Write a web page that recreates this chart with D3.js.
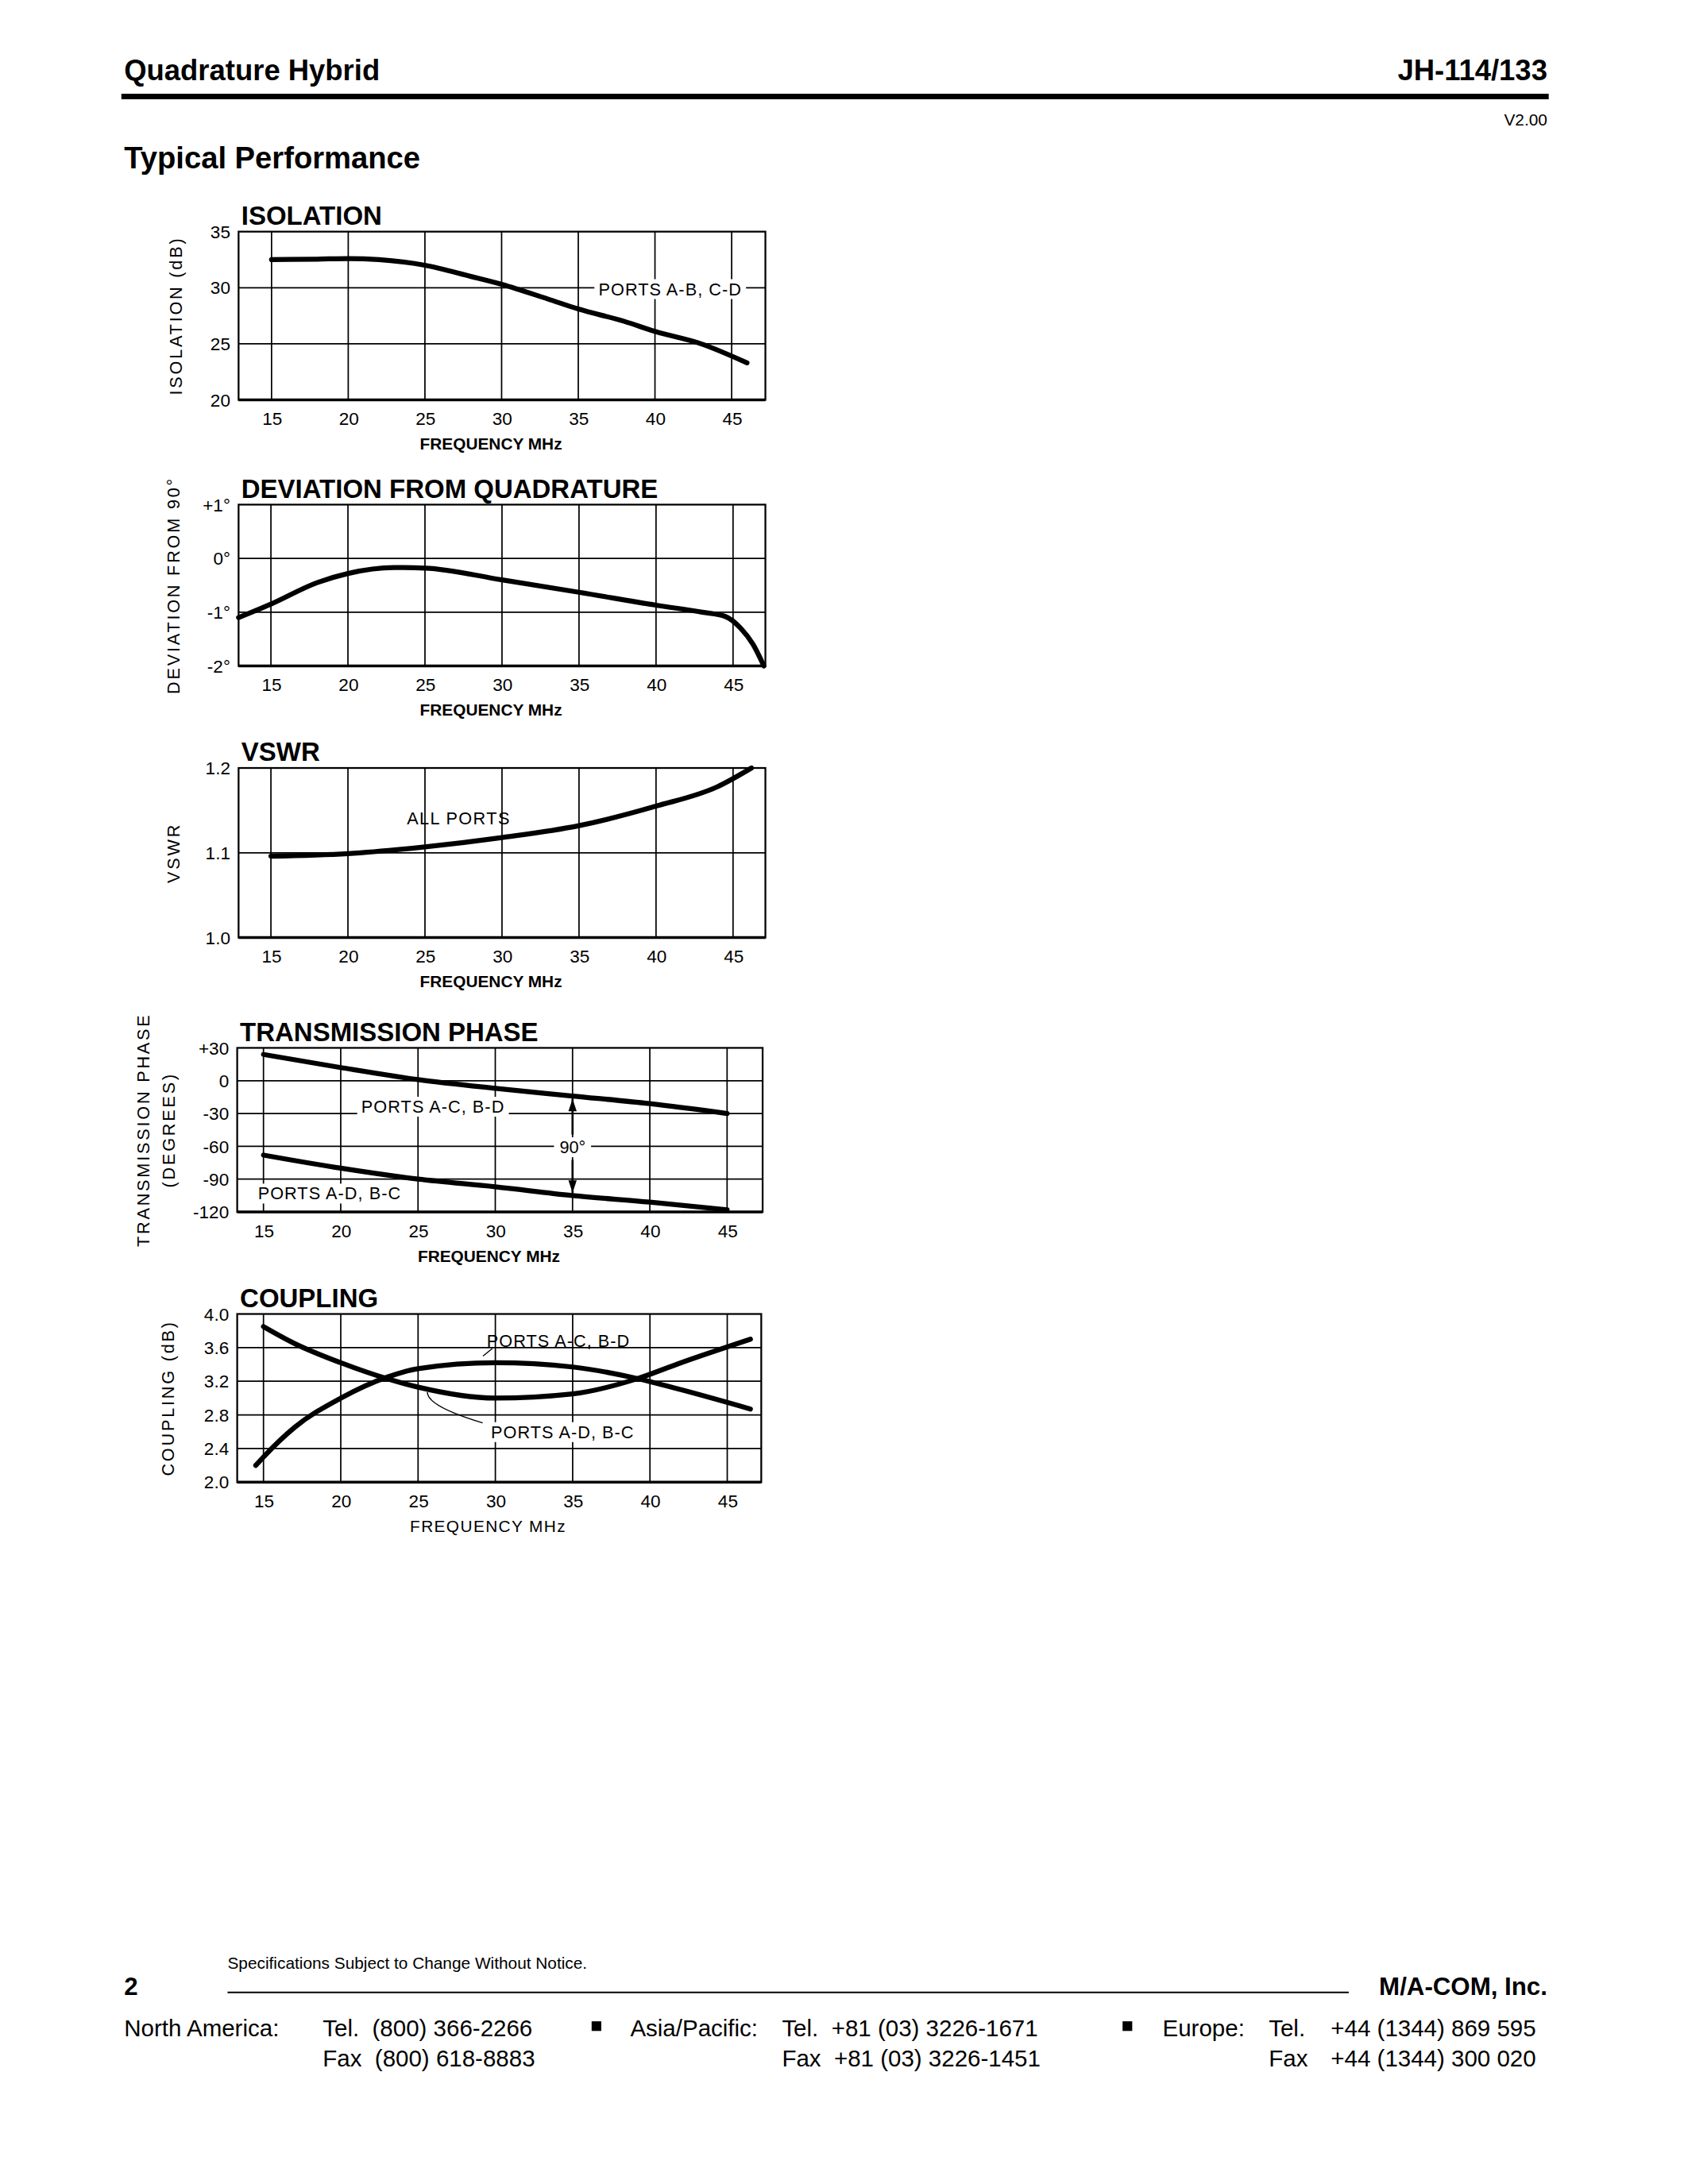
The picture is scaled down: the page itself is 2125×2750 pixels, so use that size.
<!DOCTYPE html>
<html><head><meta charset="utf-8">
<script src="https://cdn.jsdelivr.net/npm/d3@7"></script>
<style>body{margin:0;background:#fff}</style>
</head><body>
<script>
// layout is worked out in a 1224-wide page, then scaled up
var K = 2125 / 1224;
var xTicks = [15, 20, 25, 30, 35, 40, 45];

var isoFreq = [15, 18, 20, 22, 25, 28, 30, 33, 35, 38, 40, 43, 46];
var isoVal  = [32.5, 32.55, 32.6, 32.5, 32.0, 31.0, 30.3, 29.0, 28.1, 27.0, 26.1, 25.0, 23.3];

var devFreq = [12.9, 15, 18, 20, 23, 25, 30, 35, 40, 43, 44.5, 45.5, 46.3, 47];
var devVal  = [-1.1, -0.85, -0.45, -0.28, -0.17, -0.18, -0.4, -0.63, -0.87, -1.0, -1.08, -1.3, -1.6, -2.0];

var vswrFreq = [15, 20, 25, 30, 35, 40, 44, 46.2];
var vswrVal  = [1.096, 1.099, 1.107, 1.118, 1.132, 1.155, 1.178, 1.2];

var phFreq = [15, 20, 25, 30, 35, 40, 45];
var phAC   = [24, 12, 1, -7, -14, -21, -30];
var phAD   = [-68, -80, -90, -97, -105, -111, -118];

var cpFreq = [14.5, 15, 17, 20, 23, 25, 30, 35, 39, 42, 46.5];
var cpAC   = [2.2, 2.3, 2.65, 3.0, 3.25, 3.35, 3.42, 3.37, 3.24, 3.1, 2.87];
var cpFreq2 = [15, 17, 20, 23, 25, 30, 35, 39, 42, 46.5];
var cpAD   = [3.85, 3.65, 3.42, 3.23, 3.13, 3.0, 3.05, 3.22, 3.42, 3.7];

var svg = d3.select('body').append('svg').attr('width', 2125).attr('height', 2750);
var page = svg.append('g').attr('transform', 'scale(' + K + ')');
var narrow = '"Liberation Sans Narrow", "Liberation Sans", Arial, sans-serif';
var sans = '"Liberation Sans", Arial, sans-serif';

// header
page.append('text').attr('x', 90).attr('y', 58).text('Quadrature Hybrid')
  .style('font', 'bold 21px ' + sans);
page.append('text').attr('x', 1122).attr('y', 58).attr('text-anchor', 'end').text('JH-114/133')
  .style('font', 'bold 21px ' + sans);
page.append('rect').attr('x', 88).attr('y', 68).attr('width', 1035).attr('height', 4);
page.append('text').attr('x', 1122).attr('y', 91).attr('text-anchor', 'end').text('V2.00')
  .style('font', '12px ' + sans);
page.append('text').attr('x', 90).attr('y', 122).text('Typical Performance')
  .style('font', 'bold 22px ' + sans);

function chart(o) {
  var g = page.append('g');
  var x = d3.scaleLinear().domain(o.xd).range([o.l, o.r]);
  var y = d3.scaleLinear().domain(o.yd).range([o.b, o.t]);
  g.append('text').attr('x', o.l + 2).attr('y', o.t - 5).text(o.title)
    .style('font', 'bold 19px ' + narrow);
  // grid
  g.selectAll('.vg').data(o.vgrid || xTicks).enter().append('line')
    .attr('x1', x).attr('x2', x).attr('y1', o.t).attr('y2', o.b)
    .attr('stroke', '#000').attr('stroke-width', 1);
  g.selectAll('.hg').data(o.hgrid).enter().append('line')
    .attr('y1', y).attr('y2', y).attr('x1', o.l).attr('x2', o.r)
    .attr('stroke', '#000').attr('stroke-width', 1);
  g.append('rect').attr('x', o.l).attr('y', o.t).attr('width', o.r - o.l).attr('height', o.b - o.t)
    .attr('fill', 'none').attr('stroke', '#000').attr('stroke-width', 1.3);
  g.append('line').attr('x1', o.l).attr('x2', o.r).attr('y1', o.b).attr('y2', o.b)
    .attr('stroke', '#000').attr('stroke-width', 2);
  // axes
  var xa = g.append('g').attr('transform', 'translate(0,' + o.b + ')')
    .call(d3.axisBottom(x).tickValues(xTicks).tickSize(0).tickPadding(9));
  xa.select('.domain').remove();
  xa.selectAll('text').style('font', '13px ' + narrow).attr('fill', '#000');
  var ya = g.append('g').attr('transform', 'translate(' + o.l + ',0)')
    .call(d3.axisLeft(y).tickValues(o.yt).tickFormat(function (d, i) { return o.ylab[i]; })
      .tickSize(0).tickPadding(6));
  ya.select('.domain').remove();
  ya.selectAll('text').style('font', '13px ' + narrow).attr('fill', '#000');
  g.append('text').attr('x', (o.l + o.r) / 2 - 8).attr('y', o.b + 36).attr('text-anchor', 'middle')
    .text('FREQUENCY MHz').style('font', (o.xbold ? 'bold ' : '') + '12px ' + sans)
    .style('letter-spacing', o.xbold ? '0' : '0.8px');
  o.ytitle.forEach(function (s, i) {
    g.append('text').attr('transform', 'translate(' + (o.yx + i * 19) + ',' + ((o.t + o.b) / 2) + ') rotate(-90)')
      .attr('text-anchor', 'middle').text(s)
      .style('font', '12.5px ' + sans).style('letter-spacing', '1.6px');
  });
  var line = d3.line().curve(d3.curveMonotoneX).x(function (d) { return x(d[0]); }).y(function (d) { return y(d[1]); });
  o.series.forEach(function (s) {
    g.append('path').datum(d3.zip(s[0], s[1])).attr('d', line)
      .attr('fill', 'none').attr('stroke', '#000').attr('stroke-width', 3.6).attr('stroke-linecap', 'round');
  });
  return {g: g, x: x, y: y};
}

function label(g, px, py, s) {
  var t = g.append('text').attr('x', px).attr('y', py).text(s)
    .style('font', '12.5px ' + sans).style('letter-spacing', '0.6px');
  var bb = t.node().getBBox();
  g.insert('rect', function () { return t.node(); })
    .attr('x', bb.x - 3).attr('y', bb.y).attr('width', bb.width + 6).attr('height', bb.height).attr('fill', '#fff');
}

var c1 = chart({title: 'ISOLATION', l: 173, r: 555, t: 168, b: 290, xd: [12.85, 47.2], yd: [20, 35],
  hgrid: [25, 30], yt: [20, 25, 30, 35], ylab: ['20', '25', '30', '35'], ytitle: ['ISOLATION (dB)'], yx: 132,
  xbold: true, series: [[isoFreq, isoVal]]});
label(c1.g, 434, 214, 'PORTS A-B, C-D');

var c2 = chart({title: 'DEVIATION FROM QUADRATURE', l: 173, r: 555, t: 366, b: 483, xd: [12.9, 47.1], yd: [-2, 1],
  hgrid: [0, -1], yt: [1, 0, -1, -2], ylab: ['+1°', '0°', '-1°', '-2°'], ytitle: ['DEVIATION FROM 90°'], yx: 130,
  xbold: true, series: [[devFreq, devVal]]});

var c3 = chart({title: 'VSWR', l: 173, r: 555, t: 557, b: 680, xd: [12.9, 47.1], yd: [1.0, 1.2],
  hgrid: [1.1], yt: [1.0, 1.1, 1.2], ylab: ['1.0', '1.1', '1.2'], ytitle: ['VSWR'], yx: 130,
  xbold: true, series: [[vswrFreq, vswrVal]]});
c3.g.append('text').attr('x', 295).attr('y', 598).text('ALL PORTS')
  .style('font', '12.5px ' + sans).style('letter-spacing', '0.8px');

var c4 = chart({title: 'TRANSMISSION PHASE', l: 172, r: 553, t: 760, b: 879, xd: [13.3, 47.3], yd: [-120, 30],
  hgrid: [0, -30, -60, -90], yt: [30, 0, -30, -60, -90, -120], ylab: ['+30', '0', '-30', '-60', '-90', '-120'],
  ytitle: ['TRANSMISSION PHASE', '(DEGREES)'], yx: 108, xbold: true,
  series: [[phFreq, phAC], [phFreq, phAD]]});
label(c4.g, 262, 807, 'PORTS A-C, B-D');
label(c4.g, 187, 870, 'PORTS A-D, B-C');
(function () {
  var x = c4.x(35), y1 = c4.y(-14), y2 = c4.y(-105);
  var g = c4.g;
  var lb = g.append('text').attr('x', x).attr('y', c4.y(-60) + 5).attr('text-anchor', 'middle').text('90°')
    .style('font', '12.5px ' + sans);
  var bb = lb.node().getBBox();
  g.insert('rect', function () { return lb.node(); }).attr('x', bb.x - 4).attr('y', bb.y).attr('width', bb.width + 8)
    .attr('height', bb.height).attr('fill', '#fff');
  g.append('line').attr('x1', x).attr('x2', x).attr('y1', y1 + 2).attr('y2', bb.y - 2).attr('stroke', '#000').attr('stroke-width', 1.5);
  g.append('line').attr('x1', x).attr('x2', x).attr('y1', bb.y + bb.height + 2).attr('y2', y2 - 2).attr('stroke', '#000').attr('stroke-width', 1.5);
  g.append('path').attr('d', 'M' + x + ',' + (y1 + 2) + 'l-3,9h6z');
  g.append('path').attr('d', 'M' + x + ',' + (y2 - 2) + 'l-3,-9h6z');
})();

var c5 = chart({title: 'COUPLING', l: 172, r: 552, t: 953, b: 1075, xd: [13.3, 47.2], yd: [2.0, 4.0],
  hgrid: [3.6, 3.2, 2.8, 2.4], yt: [2.0, 2.4, 2.8, 3.2, 3.6, 4.0], ylab: ['2.0', '2.4', '2.8', '3.2', '3.6', '4.0'],
  ytitle: ['COUPLING (dB)'], yx: 126, xbold: false,
  series: [[cpFreq, cpAC], [cpFreq2, cpAD]]});
c5.g.append('text').attr('x', 353).attr('y', 977).text('PORTS A-C, B-D').style('font', '12.5px ' + sans).style('letter-spacing', '0.6px');
label(c5.g, 356, 1043, 'PORTS A-D, B-C');
c5.g.append('line').attr('x1', c5.x(29.2)).attr('y1', c5.y(3.5)).attr('x2', 357).attr('y2', 978)
  .attr('stroke', '#000').attr('stroke-width', 0.8);
c5.g.append('path').attr('d', 'M' + c5.x(25.6) + ',' + c5.y(3.07) + 'Q310,1020 350,1032')
  .attr('fill', 'none').attr('stroke', '#000').attr('stroke-width', 0.8);

// footer
page.append('text').attr('x', 165).attr('y', 1428).text('Specifications Subject to Change Without Notice.')
  .style('font', '12px ' + sans);
page.append('text').attr('x', 90).attr('y', 1447).text('2').style('font', 'bold 18px ' + sans);
page.append('line').attr('x1', 165).attr('x2', 978).attr('y1', 1445).attr('y2', 1445).attr('stroke', '#000').attr('stroke-width', 1.2);
page.append('text').attr('x', 1122).attr('y', 1447).attr('text-anchor', 'end').text('M/A-COM, Inc.').style('font', 'bold 18px ' + sans);

var contacts = [
  [90, 'North America:', ''], [234, 'Tel.  (800) 366-2266', 'Fax  (800) 618-8883'],
  [457, 'Asia/Pacific:', ''], [567, 'Tel.  +81 (03) 3226-1671', 'Fax  +81 (03) 3226-1451'],
  [843, 'Europe:', ''], [920, 'Tel.', 'Fax'], [965, '+44 (1344) 869 595', '+44 (1344) 300 020']
];
contacts.forEach(function (c) {
  page.append('text').attr('x', c[0]).attr('y', 1477).text(c[1]).style('font', '17px ' + sans).style('white-space', 'pre').attr('xml:space', 'preserve');
  page.append('text').attr('x', c[0]).attr('y', 1499).text(c[2]).style('font', '17px ' + sans).style('white-space', 'pre').attr('xml:space', 'preserve');
});
[433, 818].forEach(function (sx) {
  page.append('rect').attr('x', sx - 4).attr('y', 1466).attr('width', 7).attr('height', 7);
});
</script>
</body></html>
